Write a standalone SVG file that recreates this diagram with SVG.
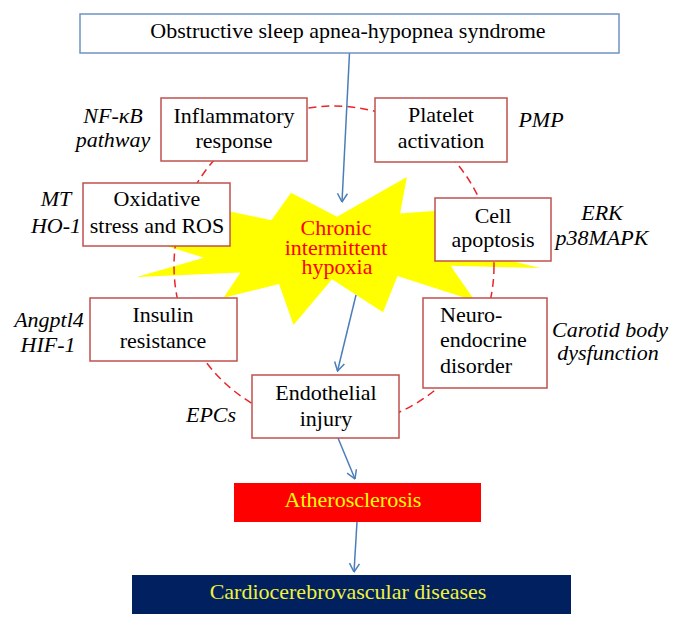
<svg xmlns="http://www.w3.org/2000/svg" width="680" height="629" viewBox="0 0 680 629">
<style>
text{font-family:"Liberation Serif","Times New Roman",serif;font-size:22px;fill:#000}
.c{text-anchor:middle}
.i{font-style:italic}
.box{fill:#fff;stroke:#c0504d;stroke-width:1.5}
.arr{fill:none;stroke:#4a7ebb;stroke-width:1.5;marker-end:url(#ah)}
</style>
<defs>
<marker id="ah" markerUnits="userSpaceOnUse" viewBox="0 0 10 12" refX="9.5" refY="6" markerWidth="10" markerHeight="12" orient="auto">
<path d="M1,1 L9.5,6 L1,11" fill="none" stroke="#4a7ebb" stroke-width="1.5"/>
</marker>
</defs>
<rect width="680" height="629" fill="#fff"/>
<g id="hypoxia">
<polygon fill="#ffff00" points="337,216.7 406.9,177 400.1,213.5 479.5,207.5 447.9,227.1 530.5,232.8 464.9,248.8 540,268.1 450.5,265.7 475.1,301 397.5,276.1 383,312.2 332,279.3 293.5,325 279,284.1 223.5,297.7 240.5,272.5 136.5,276.9 204,257.7 134,236 221,229.2 141,192.7 271.4,220.3 291,192.7"/>
<text class="c" x="336" y="235" style="fill:#ff0000">Chronic</text>
<text class="c" x="336" y="255" style="fill:#ff0000">intermittent</text>
<text class="c" x="337" y="274" style="fill:#ff0000">hypoxia</text>
</g>
<g id="cycle">
<circle cx="334" cy="266" r="160" fill="none" stroke="#e8262a" stroke-width="1.5" stroke-dasharray="8 5"/>
</g>
<g id="connectors">
<line class="arr" x1="349.5" y1="53" x2="342" y2="202"/>
<line class="arr" x1="356" y1="295" x2="337.5" y2="371"/>
<line class="arr" x1="338" y1="438" x2="355" y2="479"/>
<line class="arr" x1="357" y1="522" x2="354" y2="572"/>
</g>
<g id="osahs">
<rect x="80" y="14" width="539" height="39" fill="#fff" stroke="#6f93c4" stroke-width="1.5"/>
<text class="c" x="348" y="38">Obstructive sleep apnea-hypopnea syndrome</text>
</g>
<g id="inflammatory">
<rect class="box" x="161" y="98" width="146" height="63"/>
<text class="c" x="234" y="123">Inflammatory</text>
<text class="c" x="234" y="148">response</text>
<text class="c i" x="113" y="123">NF-κB</text>
<text class="c i" x="113" y="147">pathway</text>
</g>
<g id="platelet">
<rect class="box" x="375" y="98" width="132" height="64"/>
<text class="c" x="441" y="122">Platelet</text>
<text class="c" x="441" y="148">activation</text>
<text class="c i" x="541" y="127">PMP</text>
</g>
<g id="oxidative">
<rect class="box" x="83" y="183" width="147" height="63"/>
<text class="c" x="157" y="206">Oxidative</text>
<text class="c" x="157" y="233">stress and ROS</text>
<text class="c i" x="56" y="206">MT</text>
<text class="c i" x="56" y="233">HO-1</text>
</g>
<g id="apoptosis">
<rect class="box" x="435" y="198" width="116" height="63"/>
<text class="c" x="493" y="223">Cell</text>
<text class="c" x="493" y="247">apoptosis</text>
<text class="c i" x="602" y="220">ERK</text>
<text class="c i" x="602" y="245">p38MAPK</text>
</g>
<g id="insulin">
<rect class="box" x="90" y="298" width="147" height="63"/>
<text class="c" x="163" y="322">Insulin</text>
<text class="c" x="163" y="348">resistance</text>
<text class="c i" x="49" y="327">Angptl4</text>
<text class="c i" x="48" y="352">HIF-1</text>
</g>
<g id="neuro">
<rect class="box" x="423" y="298" width="124" height="90"/>
<text x="440" y="322">Neuro-</text>
<text x="440" y="347">endocrine</text>
<text x="440" y="373">disorder</text>
<text class="c i" x="610" y="337">Carotid body</text>
<text class="c i" x="608" y="360">dysfunction</text>
</g>
<g id="endothelial">
<rect class="box" x="252" y="375" width="147" height="63"/>
<text class="c" x="326" y="400">Endothelial</text>
<text class="c" x="326" y="426">injury</text>
<text class="c i" x="211" y="422">EPCs</text>
</g>
<g id="atherosclerosis">
<rect x="234" y="483" width="247" height="39" fill="#ff0000"/>
<text class="c" x="353" y="507" style="fill:#ffff00">Atherosclerosis</text>
</g>
<g id="ccvd">
<rect x="132" y="575" width="439" height="39" fill="#002060"/>
<text class="c" x="348" y="599" style="fill:#f2f23a">Cardiocerebrovascular diseases</text>
</g>
</svg>
